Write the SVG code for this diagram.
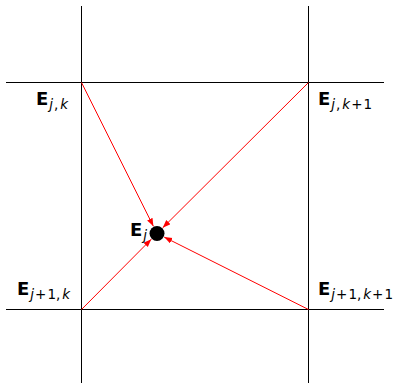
<svg xmlns="http://www.w3.org/2000/svg" width="396" height="383" viewBox="0 0 396 383">
<style>
.grid{stroke:#000;stroke-width:1;fill:none}
.arr{stroke:#ff0000;stroke-width:1;fill:none;marker-end:url(#ah)}
.E{font-family:"DejaVu Sans",sans-serif;font-weight:bold;font-size:18px;fill:#000}
.s{font-family:"DejaVu Sans",sans-serif;font-size:13.5px;font-weight:normal}
.i{font-style:italic}
</style>
<defs>
<marker id="ah" markerUnits="userSpaceOnUse" markerWidth="9" markerHeight="7" refX="8" refY="3" orient="auto">
<path d="M0,0 L8,3 L0,6 z" fill="#ff0000"/>
</marker>
</defs>
<g id="grid">
<line class="grid" x1="81.5" y1="6" x2="81.5" y2="383"/>
<line class="grid" x1="308.5" y1="6" x2="308.5" y2="383"/>
<line class="grid" x1="6" y1="82.5" x2="384" y2="82.5"/>
<line class="grid" x1="6" y1="309.5" x2="384" y2="309.5"/>
</g>
<g id="connectors">
<line class="arr" x1="81.5" y1="82.5" x2="153.4" y2="226.3"/>
<line class="arr" x1="308.5" y1="82.5" x2="162.7" y2="227.8"/>
<line class="arr" x1="81.5" y1="309.5" x2="151.3" y2="239.2"/>
<line class="arr" x1="308.5" y1="309.5" x2="164.2" y2="237.1"/>
</g>
<g id="node-Ejk">
<text class="E" x="36" y="105">E<tspan class="s i" dy="4" dx="1">j</tspan><tspan class="s" dx="1">,</tspan><tspan class="s i" dx="2">k</tspan></text>
</g>
<g id="node-Ejk1">
<text class="E" x="318" y="105">E<tspan class="s i" dy="4" dx="1">j</tspan><tspan class="s" dx="1">,</tspan><tspan class="s i" dx="2">k</tspan><tspan class="s" dx="1">+</tspan><tspan class="s" dx="1">1</tspan></text>
</g>
<g id="node-Ej1k">
<text class="E" x="17" y="295">E<tspan class="s i" dy="4" dx="1">j</tspan><tspan class="s" dx="1">+</tspan><tspan class="s" dx="1">1</tspan><tspan class="s">,</tspan><tspan class="s i" dx="2">k</tspan></text>
</g>
<g id="node-Ej1k1">
<text class="E" x="318" y="295">E<tspan class="s i" dy="4" dx="1">j</tspan><tspan class="s" dx="1">+</tspan><tspan class="s" dx="1">1</tspan><tspan class="s">,</tspan><tspan class="s i" dx="2">k</tspan><tspan class="s" dx="1">+</tspan><tspan class="s" dx="1">1</tspan></text>
</g>
<g id="node-Ej">
<circle cx="157" cy="233.5" r="7.5" fill="#000"/>
<text class="E" x="130" y="236">E<tspan class="s i" dy="4" dx="1">j</tspan></text>
</g>
</svg>
